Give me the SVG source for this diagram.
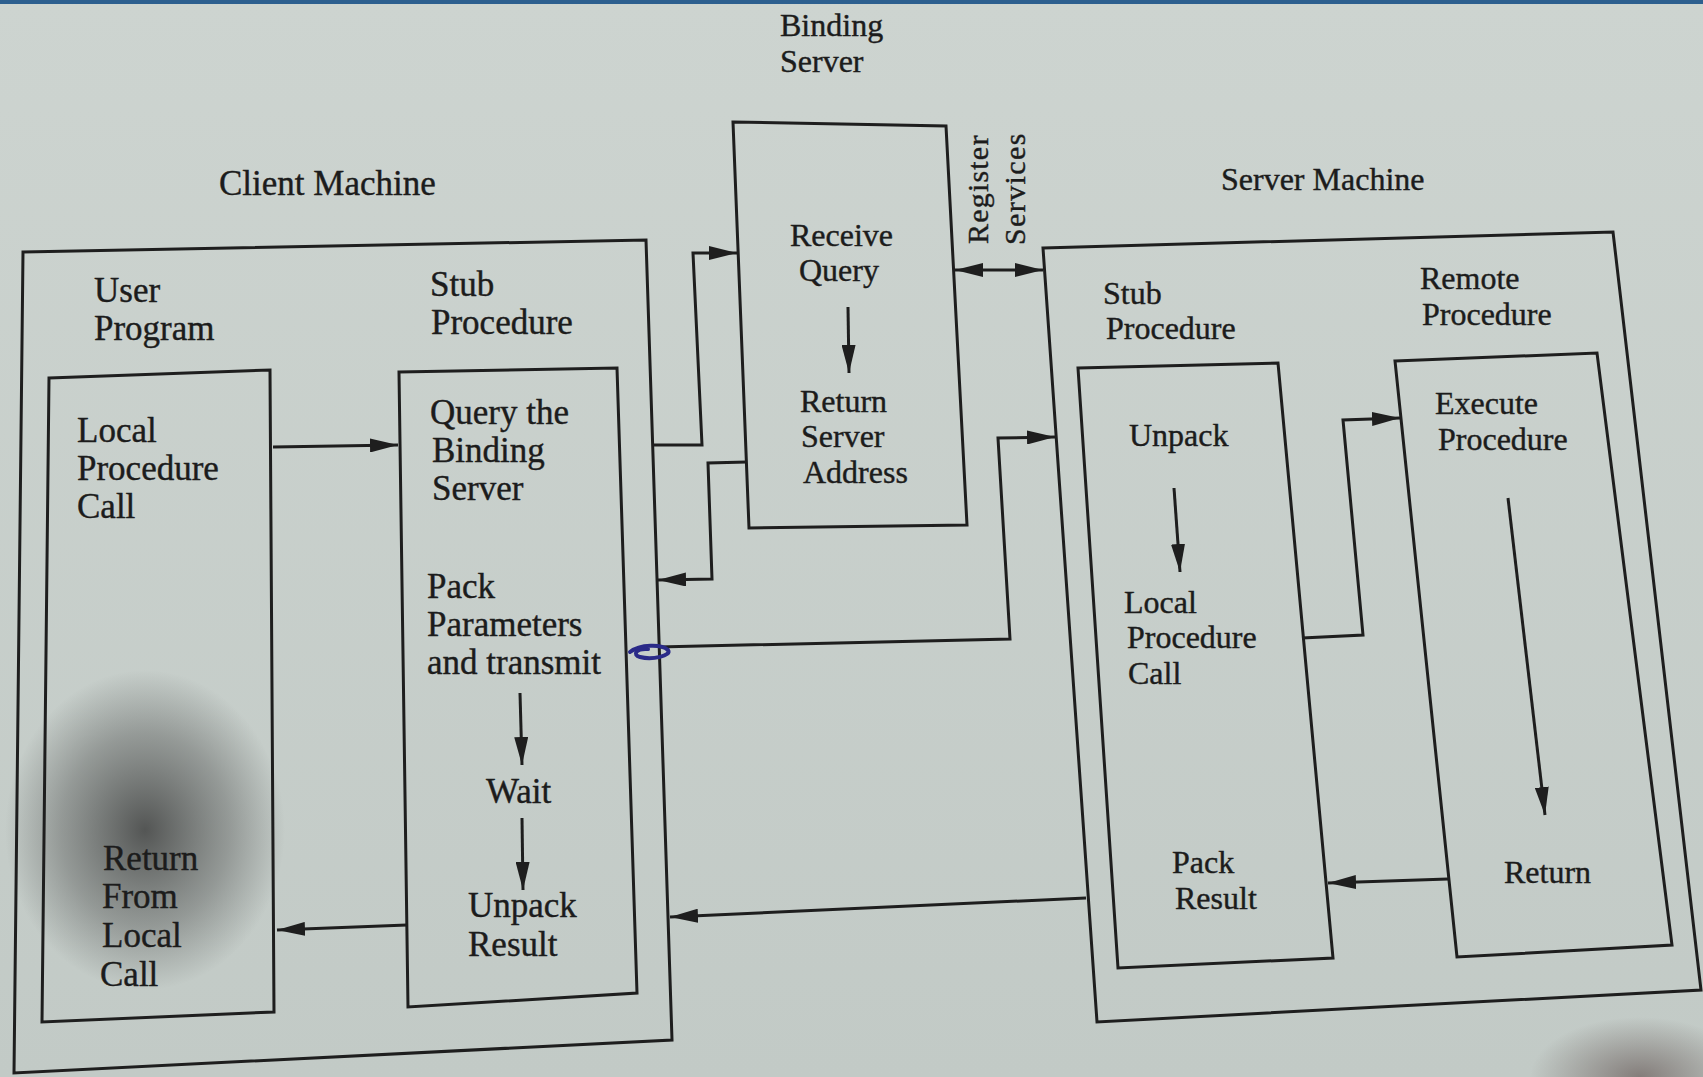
<svg xmlns="http://www.w3.org/2000/svg" width="1703" height="1077" viewBox="0 0 1703 1077">
  <defs>
    <linearGradient id="paper" x1="0" y1="0" x2="0" y2="1">
      <stop offset="0" stop-color="#cdd4d0"/>
      <stop offset="1" stop-color="#c2cac6"/>
    </linearGradient>
    <radialGradient id="smudge" cx="0.5" cy="0.5" r="0.5">
      <stop offset="0" stop-color="#2e2e2e" stop-opacity="0.75"/>
      <stop offset="0.6" stop-color="#3a3a3a" stop-opacity="0.35"/>
      <stop offset="1" stop-color="#3a3a3a" stop-opacity="0"/>
    </radialGradient>
    <radialGradient id="corner" cx="0.5" cy="0.5" r="0.5">
      <stop offset="0" stop-color="#5a4a48" stop-opacity="0.6"/>
      <stop offset="1" stop-color="#5a4a48" stop-opacity="0"/>
    </radialGradient>
    <marker id="ah" viewBox="0 0 28 14" refX="28" refY="7" markerWidth="28" markerHeight="14" markerUnits="userSpaceOnUse" orient="auto-start-reverse">
      <path d="M0,0 L28,7 L0,14 z" fill="#1e1e1e"/>
    </marker>
    <style>
      .box { fill: none; stroke: #1e1e1e; stroke-width: 3; stroke-linejoin: miter; }
      .wire { fill: none; stroke: #1e1e1e; stroke-width: 3; }
      .arr { marker-end: url(#ah); }
      .dbl { marker-start: url(#ah); marker-end: url(#ah); }
      text { font-family: "Liberation Serif", "Times New Roman", serif; fill: #1c1c1c; stroke: #1c1c1c; stroke-width: 0.4; }
      .c { font-size: 35px; }
      .s { font-size: 32px; }
      .v { font-size: 30px; }
    </style>
  </defs>

  <rect x="0" y="0" width="1703" height="1077" fill="url(#paper)"/>
  <rect x="0" y="0" width="1703" height="4" fill="#2d5f8f"/>
  <ellipse cx="145" cy="830" rx="140" ry="160" fill="url(#smudge)"/>
  <ellipse cx="1640" cy="1077" rx="110" ry="60" fill="url(#corner)"/>

  <!-- Binding server -->
  <g id="binding-server">
    <text class="s" x="780" y="36">Binding</text>
    <text class="s" x="780" y="72">Server</text>
    <path class="box" d="M733,122 L946,126 L967,525 L749,528 Z"/>
    <text class="s" x="790" y="246">Receive</text>
    <text class="s" x="799" y="281">Query</text>
    <text class="s" x="800" y="412">Return</text>
    <text class="s" x="801" y="447">Server</text>
    <text class="s" x="803" y="483">Address</text>
  </g>

  <!-- Client machine -->
  <g id="client-machine">
    <text class="c" x="219" y="195">Client Machine</text>
    <path class="box" d="M23,252 L646,240 L672,1040 L14,1073 Z"/>
  </g>

  <g id="user-program">
    <text class="c" x="94" y="302">User</text>
    <text class="c" x="94" y="340">Program</text>
    <path class="box" d="M49,378 L270,370 L274,1012 L42,1022 Z"/>
    <text class="c" x="77" y="442">Local</text>
    <text class="c" x="77" y="480">Procedure</text>
    <text class="c" x="77" y="518">Call</text>
    <text class="c" x="103" y="870">Return</text>
    <text class="c" x="102" y="908">From</text>
    <text class="c" x="102" y="947">Local</text>
    <text class="c" x="100" y="986">Call</text>
  </g>

  <g id="client-stub">
    <text class="c" x="430" y="296">Stub</text>
    <text class="c" x="431" y="334">Procedure</text>
    <path class="box" d="M399,372 L617,368 L637,993 L408,1007 Z"/>
    <text class="c" x="430" y="424">Query the</text>
    <text class="c" x="432" y="462">Binding</text>
    <text class="c" x="432" y="500">Server</text>
    <text class="c" x="427" y="598">Pack</text>
    <text class="c" x="427" y="636">Parameters</text>
    <text class="c" x="427" y="674">and transmit</text>
    <text class="c" x="486" y="803">Wait</text>
    <text class="c" x="468" y="917">Unpack</text>
    <text class="c" x="468" y="956">Result</text>
  </g>

  <!-- Server machine -->
  <g id="server-machine">
    <text class="s" x="1221" y="190">Server Machine</text>
    <path class="box" d="M1043,248 L1613,232 L1701,990 L1097,1022 Z"/>
  </g>

  <g id="server-stub">
    <text class="s" x="1103" y="304">Stub</text>
    <text class="s" x="1106" y="339">Procedure</text>
    <path class="box" d="M1078,368 L1278,363 L1333,958 L1118,968 Z"/>
    <text class="s" x="1129" y="446">Unpack</text>
    <text class="s" x="1124" y="613">Local</text>
    <text class="s" x="1127" y="648">Procedure</text>
    <text class="s" x="1128" y="684">Call</text>
    <text class="s" x="1172" y="873">Pack</text>
    <text class="s" x="1175" y="909">Result</text>
  </g>

  <g id="remote-procedure">
    <text class="s" x="1420" y="289">Remote</text>
    <text class="s" x="1422" y="325">Procedure</text>
    <path class="box" d="M1395,361 L1597,353 L1672,945 L1457,957 Z"/>
    <text class="s" x="1435" y="414">Execute</text>
    <text class="s" x="1438" y="450">Procedure</text>
    <text class="s" x="1504" y="883">Return</text>
  </g>

  <!-- Register services label -->
  <g id="register-services">
    <text class="v" transform="translate(988,244) rotate(-90)" letter-spacing="1.2">Register</text>
    <text class="v" transform="translate(1025,245) rotate(-90)" letter-spacing="1.4">Services</text>
  </g>

  <!-- Connectors -->
  <g id="connectors">
    <path class="wire arr" d="M273,447 L398,445"/>
    <path class="wire arr" d="M653,445 L702,445 L693,253 L737,253"/>
    <path class="wire arr" d="M747,462 L708,463 L712,579 L658,580"/>
    <path class="wire arr" d="M658,647 L1010,639 L998,438 L1055,437"/>
    <path class="wire dbl" d="M955,270 L1043,270"/>
    <path class="wire arr" d="M1302,638 L1363,635 L1343,420 L1400,418"/>
    <path class="wire arr" d="M1448,879 L1328,883"/>
    <path class="wire arr" d="M1086,898 L670,917"/>
    <path class="wire arr" d="M407,925 L277,930"/>
    <path class="wire arr" d="M848,307 L849,373"/>
    <path class="wire arr" d="M520,693 L522,765"/>
    <path class="wire arr" d="M522,818 L523,890"/>
    <path class="wire arr" d="M1174,488 L1180,572"/>
    <path class="wire arr" d="M1508,498 L1545,815"/>
  </g>

  <!-- pen mark -->
  <path d="M630,652 C640,644 662,644 668,650 C672,656 652,660 640,657 C632,655 636,648 648,649" fill="none" stroke="#2a2a88" stroke-width="4" stroke-linecap="round"/>
</svg>
